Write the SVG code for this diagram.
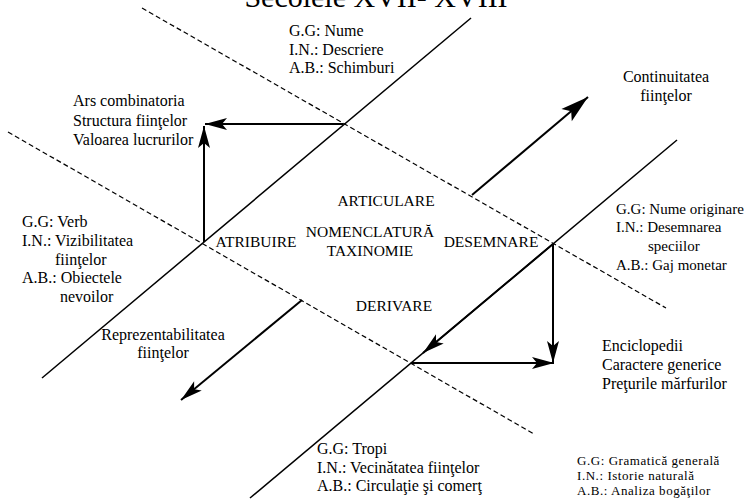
<svg xmlns="http://www.w3.org/2000/svg" width="748" height="499" viewBox="0 0 748 499" font-family="'Liberation Serif', 'Times New Roman', serif">
<style>
text{font-family:'Liberation Serif','Times New Roman',serif;fill:#000;font-size:16px}
.c{text-anchor:middle;font-size:15.5px}
.leg{font-size:13px;letter-spacing:0.55px}
.r{font-size:15px}
.solid{stroke:#000;stroke-width:1.5;fill:none}
.dash{stroke:#000;stroke-width:1.2;stroke-dasharray:5,3;fill:none}
.arr{stroke:#000;stroke-width:2;fill:none;marker-end:url(#ah)}
</style>
<defs>
<marker id="ah" markerUnits="userSpaceOnUse" markerWidth="24" markerHeight="14" viewBox="-23 -7 24 14" refX="0" refY="0" orient="auto">
<path d="M0,0 L-22,-6 L-17,0 L-22,6 Z" fill="#000"/>
</marker>
<marker id="ahL" markerUnits="userSpaceOnUse" markerWidth="30" markerHeight="18" viewBox="-29 -9 30 18" refX="0" refY="0" orient="auto">
<path d="M0,0 L-28,-8 L-22,0 L-28,8 Z" fill="#000"/>
</marker>
</defs>
<rect width="748" height="499" fill="#fff"/>
<g id="title"><text x="376" y="7" class="c" style="font-size:30px">Secolele XVII- XVIII</text></g>
<g id="lines">
<line class="solid" x1="42" y1="378" x2="471" y2="18"/>
<line class="solid" x1="250" y1="498" x2="677" y2="140"/>
<line class="dash" x1="142" y1="8" x2="666" y2="308"/>
<line class="dash" x1="8" y1="132" x2="534" y2="434"/>
</g>
<g id="connectors">
<path class="arr" d="M343.5,124 L205,124"/>
<path class="arr" d="M204,242 L204,126"/>
<path class="arr" d="M553,244 L553,363"/>
<path class="arr" d="M411,363 L554,363"/>
<path class="arr" d="M553,244 L423,353"/>
<path class="arr" style="marker-end:url(#ahL)" d="M472,195 L588,97"/>
<path class="arr" d="M302,300 L181,400"/>
</g>
<g id="top-info">
<text x="289" y="36">G.G: Nume</text>
<text x="289" y="54.5">I.N.: Descriere</text>
<text x="289" y="73">A.B.: Schimburi</text>
</g>
<g id="ars">
<text x="73" y="106">Ars combinatoria</text>
<text x="73" y="126">Structura fiinţelor</text>
<text x="73" y="145">Valoarea lucrurilor</text>
</g>
<g id="left-info">
<text x="22" y="227">G.G: Verb</text>
<text x="22" y="246">I.N.: Vizibilitatea</text>
<text x="55" y="265">fiinţelor</text>
<text x="22" y="283">A.B.: Obiectele</text>
<text x="60" y="302">nevoilor</text>
</g>
<g id="continuitatea">
<text x="666" y="82" class="c" style="font-size:16px">Continuitatea</text>
<text x="666" y="101" class="c" style="font-size:16px">fiinţelor</text>
</g>
<g id="right-info">
<text x="616" y="214" class="r">G.G: Nume originare</text>
<text x="616" y="232" class="r">I.N.: Desemnarea</text>
<text x="648" y="251" class="r">speciilor</text>
<text x="616" y="270" class="r">A.B.: Gaj monetar</text>
</g>
<g id="center">
<text x="386" y="206" class="c">ARTICULARE</text>
<text x="370" y="237" class="c">NOMENCLATURĂ</text>
<text x="370" y="256" class="c">TAXINOMIE</text>
<text x="394" y="311" class="c">DERIVARE</text>
</g>
<g id="atribuire"><text x="256" y="247" class="c">ATRIBUIRE</text></g>
<g id="desemnare"><text x="491" y="247" class="c">DESEMNARE</text></g>
<g id="reprezentabilitatea">
<text x="163" y="340" class="c" style="font-size:16px">Reprezentabilitatea</text>
<text x="163" y="358" class="c" style="font-size:16px">fiinţelor</text>
</g>
<g id="enciclopedii">
<text x="602" y="351">Enciclopedii</text>
<text x="602" y="370">Caractere generice</text>
<text x="602" y="389">Preţurile mărfurilor</text>
</g>
<g id="bottom-info">
<text x="317" y="454">G.G: Tropi</text>
<text x="317" y="473">I.N.: Vecinătatea fiinţelor</text>
<text x="317" y="491">A.B.: Circulaţie şi comerţ</text>
</g>
<g id="legend">
<text x="577" y="465" class="leg">G.G: Gramatică generală</text>
<text x="577" y="480" class="leg">I.N.: Istorie naturală</text>
<text x="577" y="495" class="leg">A.B.: Analiza bogăţilor</text>
</g>
</svg>
